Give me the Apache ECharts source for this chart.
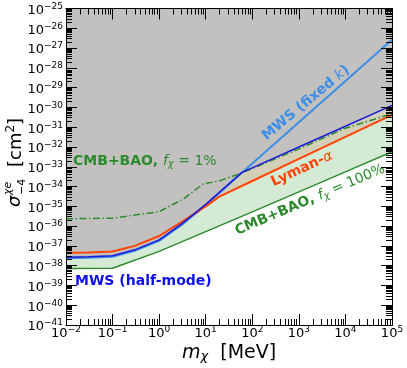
<!DOCTYPE html>
<html>
<head>
<meta charset="utf-8">
<title>sigma vs m_chi</title>
<script src="https://cdn.jsdelivr.net/npm/echarts@6.0.0/dist/echarts.min.js"></script>
<style>
  html, body { margin: 0; padding: 0; background: #fff; }
  #chart { width: 407px; height: 368px; }
</style>
</head>
<body>
<div id="chart"></div>
<script>
// masses in MeV, cross sections in cm^2
var massCmb100 = [0.01, 0.1, 1, 10, 100, 1e3, 1e4, 1e5];
var sigmaCmb100 = [7.08e-39, 7.41e-39, 5.25e-38, 5.25e-37, 5.25e-36, 5.37e-35, 5.50e-34, 5.75e-33];

var massCmb1 = [0.01, 0.1, 1, 3.3, 8.8, 20, 63, 1e3, 1e4, 1e5];
var sigmaCmb1 = [2.34e-36, 2.51e-36, 5.37e-36, 2.34e-35, 1.35e-34, 1.95e-34, 5.13e-34, 7.94e-33, 8.91e-32, 4.79e-31];

var massLya = [0.01, 0.03, 0.1, 0.3, 1, 3, 10, 20, 100, 1e3, 1e4, 1e5];
var sigmaLya = [4.47e-38, 4.68e-38, 5.25e-38, 1.0e-37, 3.16e-37, 1.58e-36, 1.0e-35, 3.16e-35, 1.91e-34, 2.51e-33, 3.24e-32, 4.17e-31];

var massFixedK = [0.01, 0.03, 0.1, 0.3, 1, 3, 10, 59, 1e5];
var sigmaFixedK = [2.40e-38, 2.51e-38, 2.82e-38, 5.62e-38, 1.78e-37, 1.12e-36, 1.12e-35, 4.79e-34, 2.63e-27];

var massHalfMode = [0.01, 0.03, 0.1, 0.3, 1, 3, 10, 59, 100, 1e3, 1e4, 1e5];
var sigmaHalfMode = [2.69e-38, 2.82e-38, 3.16e-38, 6.31e-38, 2.0e-37, 1.26e-36, 1.26e-35, 5.01e-34, 8.71e-34, 1.0e-32, 1.12e-31, 1.26e-30];

var mwsCross = 59; // where the two MWS curves cross

// tick exponents
var xTickExp = [-2, -1, 0, 1, 2, 3, 4, 5];
var yTickExp = [-41, -40, -39, -38, -37, -36, -35, -34, -33, -32, -31, -30, -29, -28, -27, -26, -25];

function pairs(xs, ys) {
  return xs.map(function (x, i) { return [x, ys[i]]; });
}

// lower edge of the grey (MWS) region
var mwsEdge = pairs(massFixedK, sigmaFixedK).filter(function (p) { return p[0] <= mwsCross; })
  .concat(pairs(massHalfMode, sigmaHalfMode).filter(function (p) { return p[0] > mwsCross; }));

function minorTicks(exps) {
  var out = [];
  for (var i = 0; i < exps.length - 1; i++) {
    for (var k = 2; k <= 9; k++) out.push(exps[i] + Math.log10(k));
  }
  return out;
}

var FONT = 'DejaVu Sans';
var supRich = {
  b: { fontSize: 13, lineHeight: 13, padding: [4, 0, 0, 0], color: '#000', fontFamily: FONT },
  s: { fontSize: 9, lineHeight: 9, verticalAlign: 'top', color: '#000', fontFamily: FONT }
};
function powLabel(v) {
  var e = Math.round(v);
  return '{b|10}{s|' + (e < 0 ? '\u2212' + (-e) : e) + '}';
}

function majorAxis(pos, lo, hi, withLabels, margin) {
  return {
    type: 'value', gridIndex: 0, position: pos, min: lo, max: hi, interval: 1, z: 10,
    axisLine: { show: true, onZero: false, lineStyle: { color: '#000', width: 1 } },
    axisTick: { show: true, inside: true, length: 11, lineStyle: { color: '#000', width: 1 } },
    axisLabel: {
      show: withLabels, formatter: powLabel, rich: supRich, margin: margin,
      showMinLabel: true, showMaxLabel: true, hideOverlap: false
    },
    splitLine: { show: false }
  };
}
function minorAxis(pos, lo, hi, exps) {
  return {
    type: 'value', gridIndex: 0, position: pos, min: lo, max: hi, z: 10,
    axisLine: { show: true, onZero: false, lineStyle: { color: '#000', width: 1 } },
    axisTick: { show: true, inside: true, length: 6, customValues: minorTicks(exps),
      lineStyle: { color: '#000', width: 1 } },
    axisLabel: { show: false },
    splitLine: { show: false }
  };
}

var TOP = 1e-25;
var chart = echarts.init(document.getElementById('chart'), null, { renderer: 'canvas' });

var option = {
  animation: false,
  backgroundColor: '#fff',
  grid: { left: 66, right: 15, top: 7, bottom: 43 },
  xAxis: [
    minorAxis('bottom', -2, 5, xTickExp),
    minorAxis('top', -2, 5, xTickExp),
    majorAxis('bottom', -2, 5, true, 0),
    majorAxis('top', -2, 5, false, 0),
    { type: 'log', logBase: 10, min: 1e-2, max: 1e5, show: false }
  ],
  yAxis: [
    minorAxis('left', -41, -25, yTickExp),
    minorAxis('right', -41, -25, yTickExp),
    majorAxis('left', -41, -25, true, 3),
    majorAxis('right', -41, -25, false, 0),
    { type: 'log', logBase: 10, min: 1e-41, max: 1e-25, show: false }
  ],
  series: [
    { type: 'line', xAxisIndex: 4, yAxisIndex: 4, data: pairs(massCmb100, sigmaCmb100), showSymbol: false, silent: true, z: 1,
      lineStyle: { width: 0 }, areaStyle: { color: '#d5ead5', opacity: 1, origin: TOP } },
    { type: 'line', xAxisIndex: 4, yAxisIndex: 4, data: pairs(massLya, sigmaLya), showSymbol: false, silent: true, z: 1,
      lineStyle: { width: 0 }, areaStyle: { color: '#d3cfb9', opacity: 1, origin: TOP } },
    { type: 'line', xAxisIndex: 4, yAxisIndex: 4, data: mwsEdge, showSymbol: false, silent: true, z: 1,
      lineStyle: { width: 0 }, areaStyle: { color: '#c3c1c0', opacity: 1, origin: TOP } },
    { name: 'MWS (fixed k)', type: 'line', xAxisIndex: 4, yAxisIndex: 4, data: pairs(massFixedK, sigmaFixedK), showSymbol: false, z: 3,
      lineStyle: { color: '#3b8ee8', width: 2 } },
    { name: 'MWS (half-mode)', type: 'line', xAxisIndex: 4, yAxisIndex: 4, data: pairs(massHalfMode, sigmaHalfMode), showSymbol: false, z: 4,
      lineStyle: { color: '#1a1ad6', width: 1.5 } },
    { name: 'Lyman-alpha', type: 'line', xAxisIndex: 4, yAxisIndex: 4, data: pairs(massLya, sigmaLya), showSymbol: false, z: 3,
      lineStyle: { color: '#ff4500', width: 2 } },
    { name: 'CMB+BAO 1%', type: 'line', xAxisIndex: 4, yAxisIndex: 4, data: pairs(massCmb1, sigmaCmb1), showSymbol: false, z: 3,
      lineStyle: { color: '#2e8b2e', width: 1.5, type: [7, 2.5, 1.5, 2.5] } },
    { name: 'CMB+BAO 100%', type: 'line', xAxisIndex: 4, yAxisIndex: 4, data: pairs(massCmb100, sigmaCmb100), showSymbol: false, z: 3,
      lineStyle: { color: '#2e8b2e', width: 1.5 } }
  ],
  graphic: [
    { type: 'text', x: 306, y: 103, rotation: 39.7 * Math.PI / 180, z: 100,
      style: { text: '{b|MWS (fixed }{i|k}{b|)}', align: 'center', verticalAlign: 'middle',
        rich: { b: { fontSize: 14, fontWeight: 'bold', fill: '#3b8ee8', fontFamily: FONT },
                i: { fontSize: 14, fontStyle: 'italic', fill: '#3b8ee8', fontFamily: FONT } } } },
    { type: 'text', x: 302, y: 169, rotation: 25 * Math.PI / 180, z: 100,
      style: { text: '{b|Lyman-}{i|\u03b1}', align: 'center', verticalAlign: 'middle',
        rich: { b: { fontSize: 14, fontWeight: 'bold', fill: '#ff4500', fontFamily: FONT },
                i: { fontSize: 14, fontStyle: 'italic', fill: '#ff4500', fontFamily: FONT } } } },
    { type: 'text', x: 310, y: 200, rotation: 23 * Math.PI / 180, z: 100,
      style: { text: '{b|CMB+BAO, }{i|f}{sub|\u03c7}{r| = 100%}', align: 'center', verticalAlign: 'middle',
        rich: { b: { fontSize: 14, lineHeight: 16, fontWeight: 'bold', fill: '#2b8a2b', fontFamily: FONT },
                i: { fontSize: 14, lineHeight: 16, fontStyle: 'italic', fill: '#2b8a2b', fontFamily: FONT },
                sub: { fontSize: 10, lineHeight: 10, verticalAlign: 'bottom', fontStyle: 'italic', fill: '#2b8a2b', fontFamily: FONT },
                r: { fontSize: 14, lineHeight: 16, fill: '#2b8a2b', fontFamily: FONT } } } },
    { type: 'text', x: 73, y: 161, z: 100,
      style: { text: '{b|CMB+BAO, }{i|f}{sub|\u03c7}{r| = 1%}', align: 'left', verticalAlign: 'middle',
        rich: { b: { fontSize: 14, lineHeight: 16, fontWeight: 'bold', fill: '#2b8a2b', fontFamily: FONT },
                i: { fontSize: 14, lineHeight: 16, fontStyle: 'italic', fill: '#2b8a2b', fontFamily: FONT },
                sub: { fontSize: 10, lineHeight: 10, verticalAlign: 'bottom', fontStyle: 'italic', fill: '#2b8a2b', fontFamily: FONT },
                r: { fontSize: 14, lineHeight: 16, fill: '#2b8a2b', fontFamily: FONT } } } },
    { type: 'text', x: 75, y: 281, z: 100,
      style: { text: 'MWS (half-mode)', align: 'left', verticalAlign: 'middle',
        font: 'bold 14px "DejaVu Sans"', fill: '#1010ee' } },
    // y axis title
    { type: 'group', x: 15, y: 207, rotation: Math.PI / 2, z: 100, children: [
      { type: 'text', x: 0, y: 0, style: { text: '\u03c3', font: 'italic 18px "DejaVu Sans"', fill: '#000', align: 'left', verticalAlign: 'middle' } },
      { type: 'text', x: 12, y: -7, style: { text: '\u03c7e', font: 'italic 11px "DejaVu Sans"', fill: '#000', align: 'left', verticalAlign: 'middle' } },
      { type: 'text', x: 12, y: 7, style: { text: '\u22124', font: '11px "DejaVu Sans"', fill: '#000', align: 'left', verticalAlign: 'middle' } },
      { type: 'text', x: 40, y: -1, style: { text: '{b|[cm}{s|2}{b|]}', align: 'left', verticalAlign: 'middle',
        rich: { b: { fontSize: 18, lineHeight: 18, padding: [4, 0, 0, 0], fill: '#000', fontFamily: FONT },
                s: { fontSize: 12, lineHeight: 12, verticalAlign: 'top', fill: '#000', fontFamily: FONT } } } }
    ] },
    // x axis title
    { type: 'text', x: 182, y: 353, z: 100,
      style: { text: '{i|m}{sub|\u03c7}{b|  [MeV]}', align: 'left', verticalAlign: 'middle',
        rich: { i: { fontSize: 19, lineHeight: 20, fontStyle: 'italic', fill: '#000', fontFamily: FONT },
                sub: { fontSize: 13, lineHeight: 13, verticalAlign: 'bottom', fontStyle: 'italic', fill: '#000', fontFamily: FONT },
                b: { fontSize: 19, lineHeight: 20, fill: '#000', fontFamily: FONT } } } }
  ]
};
chart.setOption(option);
</script>
</body>
</html>
